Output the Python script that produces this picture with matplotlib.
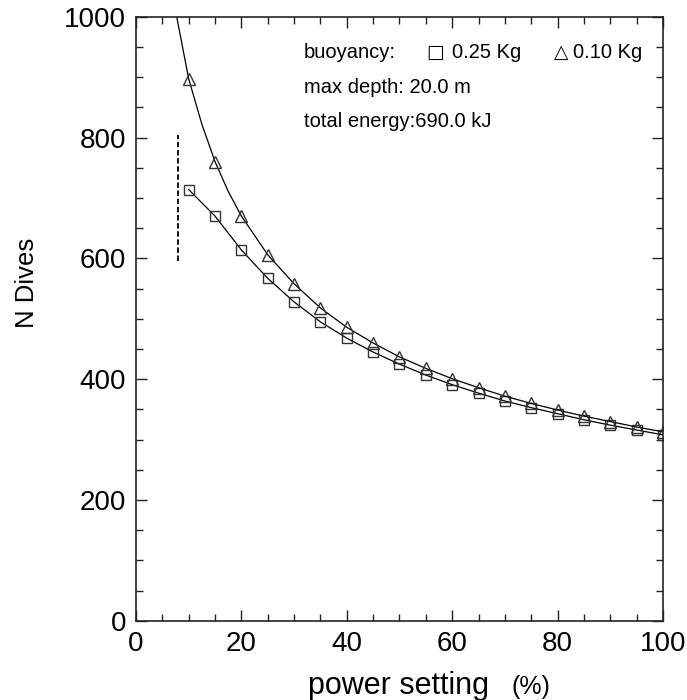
import numpy as np
import matplotlib
matplotlib.use('Agg')
import matplotlib.pyplot as plt
from matplotlib.ticker import MultipleLocator

plt.rcParams['font.family'] = ['Liberation Sans', 'DejaVu Sans']

# data
power = [10, 15, 20, 25, 30, 35, 40, 45, 50, 55, 60, 65, 70, 75, 80, 85, 90, 95, 100]
dives_025 = [714, 670, 614, 567, 528, 495, 468, 445, 425, 407, 391, 377, 364, 353, 343, 333, 324, 316, 308]
dives_010 = [897, 760, 670, 606, 558, 518, 486, 460, 437, 418, 401, 386, 372, 360, 349, 339, 330, 321, 313]

# curve through the 0.10 Kg points, starting above the top of the axis
curve_010_x = [7.5, 10, 12.5, 15, 17.5, 20, 25, 30, 35, 40, 45, 50, 55, 60, 65, 70, 75, 80, 85, 90, 95, 100]
curve_010_y = [1010, 897, 822, 760, 711, 670, 606, 558, 518, 486, 460, 437, 418, 401, 386, 372, 360, 349, 339, 330, 321, 313]

# vertical dashed marker
limit_x = [8.0, 8.0]
limit_y = [595, 805]

fig = plt.figure(figsize=(6.87, 7.0), dpi=100)
ax = fig.add_axes([0.198, 0.113, 0.767, 0.863])

mc = '#333333'
ax.plot(power, dives_025, color='black', lw=0.9)
ax.plot(power, dives_025, ls='none', marker='s', ms=7.5, mfc='none', mec=mc, mew=1.0)
ax.plot(curve_010_x, curve_010_y, color='black', lw=0.9)
ax.plot(power, dives_010, ls='none', marker='^', ms=8, mfc='none', mec=mc, mew=1.0)
ax.plot(limit_x, limit_y, color='black', lw=1.3, ls=(0, (3, 1.5)))

ax.set_xlim(0, 100)
ax.set_ylim(0, 1000)
ax.xaxis.set_major_locator(MultipleLocator(20))
ax.xaxis.set_minor_locator(MultipleLocator(5))
ax.yaxis.set_major_locator(MultipleLocator(200))
ax.yaxis.set_minor_locator(MultipleLocator(50))
ax.tick_params(which='both', direction='in', top=True, right=True, width=1.0, color='#222222')
ax.tick_params(which='major', length=8, labelsize=20, pad=7)
ax.tick_params(which='minor', length=5)
for sp in ax.spines.values():
    sp.set_linewidth(1.2)
    sp.set_color('#222222')

ax.set_ylabel('N Dives', fontsize=18.5)
ax.yaxis.set_label_coords(-0.185, 0.56)
fig.text(0.448, 0.009, 'power setting', fontsize=22, ha='left', va='baseline')
fig.text(0.744, 0.009, '(%)', fontsize=18, ha='left', va='baseline')

fs = 14.5
ax.text(31.9, 932, 'buoyancy:', fontsize=fs, va='baseline')
ax.text(55.0, 932, '\u25a1', fontsize=fs - 1, va='baseline', family='DejaVu Sans')
ax.text(60.0, 932, '0.25 Kg', fontsize=fs, va='baseline')
ax.text(79.3, 932, '\u25b3', fontsize=fs - 1, va='baseline', family='DejaVu Sans')
ax.text(83.0, 932, '0.10 Kg', fontsize=fs, va='baseline')
ax.text(31.9, 874, 'max depth: 20.0 m', fontsize=fs, va='baseline')
ax.text(31.9, 818, 'total energy:690.0 kJ', fontsize=fs, va='baseline')

fig.savefig('out.png', dpi=100)
